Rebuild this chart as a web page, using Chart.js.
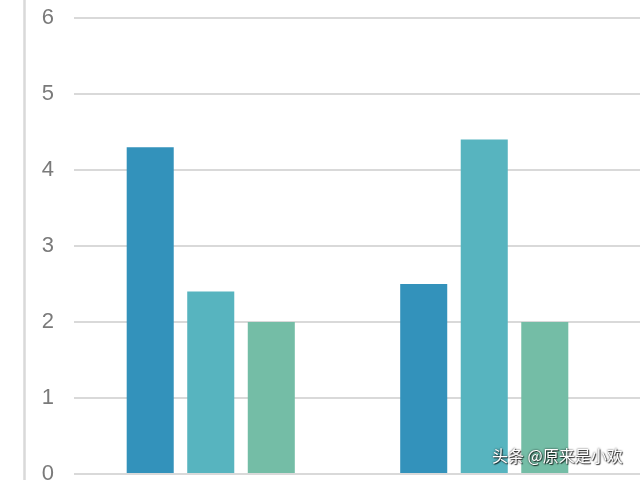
<!DOCTYPE html>
<html>
<head>
<meta charset="utf-8">
<script src="https://cdn.jsdelivr.net/npm/chart.js@4/dist/chart.umd.min.js"></script>
<style>
  html, body { margin: 0; padding: 0; background: #fff; overflow: hidden; width: 640px; height: 480px; }
  #wrap { position: relative; width: 640px; height: 500px; }
  #mark { position: absolute; left: 492px; top: 446px; font: 16px/18px "Noto Sans CJK SC", sans-serif; color: #fff;
          text-shadow: 0 0 2px rgba(0,0,0,0.85), 1px 1px 1px rgba(0,0,0,0.75); white-space: nowrap; }
</style>
</head>
<body>
<div id="wrap">
  <canvas id="c" width="640" height="500"></canvas>
  <div id="mark">头条 @原来是小欢</div>
</div>
<script>
const categories = ['类别1', '类别2'];
const series1 = [4.3, 2.5];
const series2 = [2.4, 4.4];
const series3 = [2, 2];
const seriesNames = ['系列1', '系列2', '系列3'];
const yTicks = [0, 1, 2, 3, 4, 5, 6];

const gridColor = '#d9d9d9';

const decor = {
  id: 'decor',
  beforeDraw(chart) {
    const ctx = chart.ctx;
    ctx.save();
    ctx.strokeStyle = gridColor;
    ctx.lineWidth = 2.5;
    ctx.beginPath();
    ctx.moveTo(24.5, 0);
    ctx.lineTo(24.5, chart.height);
    ctx.stroke();
    // extend gridlines to the right edge of the canvas
    const y = chart.scales.y;
    ctx.lineWidth = 2;
    y.ticks.forEach(t => {
      const py = y.getPixelForValue(t.value);
      ctx.beginPath();
      ctx.moveTo(chart.chartArea.right, py);
      ctx.lineTo(chart.width, py);
      ctx.stroke();
    });
    ctx.restore();
  }
};

new Chart(document.getElementById('c'), {
  type: 'bar',
  data: {
    labels: categories,
    datasets: [
      { label: seriesNames[0], data: series1, backgroundColor: '#3392bb' },
      { label: seriesNames[1], data: series2, backgroundColor: '#57b4bf' },
      { label: seriesNames[2], data: series3, backgroundColor: '#74bda6' }
    ]
  },
  options: {
    responsive: false,
    animation: false,
    layout: { padding: { top: 18, bottom: 26, left: 0, right: 19 } },
    plugins: { legend: { display: false }, tooltip: { enabled: false } },
    datasets: { bar: { categoryPercentage: 0.664, barPercentage: 0.777 } },
    scales: {
      x: {
        display: false
      },
      y: {
        min: 0, max: 6,
        afterBuildTicks(scale) { scale.ticks = yTicks.map(v => ({ value: v })); },
        afterFit(scale) { scale.width = 74; scale.paddingTop = 0; scale.paddingBottom = 0; },
        grid: { color: gridColor, lineWidth: 2, drawTicks: false },
        border: { display: false },
        ticks: {
          padding: 20,
          color: '#7a7a7a',
          font: { family: 'Liberation Sans', size: 22 }
        }
      }
    }
  },
  plugins: [decor]
});
</script>
</body>
</html>
